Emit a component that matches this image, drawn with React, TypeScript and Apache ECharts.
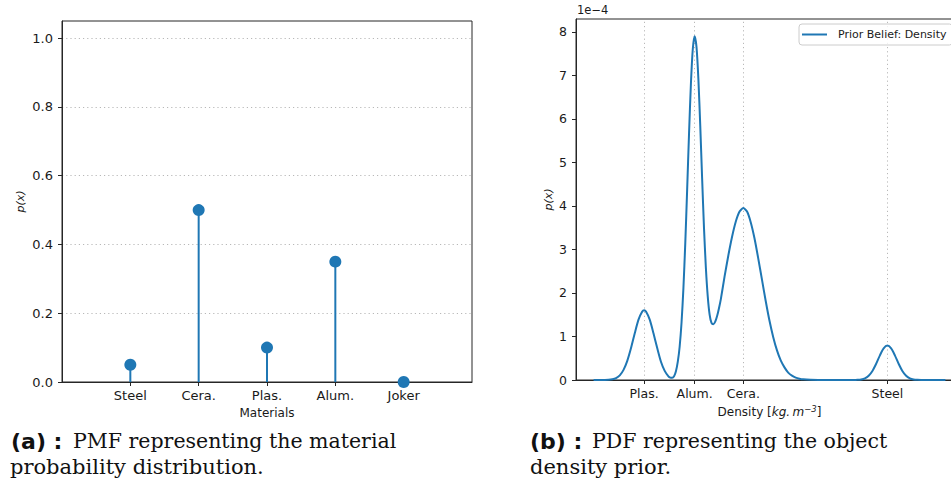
import React, { useEffect, useRef } from "react";
import * as echarts from "echarts";

// ---------- (a) PMF ----------
const materials = ["Steel", "Cera.", "Plas.", "Alum.", "Joker"];
const pmfValues = [0.05, 0.5, 0.1, 0.35, 0.0];
const pmfTicks = [0, 0.2, 0.4, 0.6, 0.8, 1.0];

// ---------- (b) PDF ----------
const densityTickValues = [1350, 2700, 4000, 7850];
const densityTickLabels = ["Plas.", "Alum.", "Cera.", "Steel"];
const pdfTicks = [0, 1, 2, 3, 4, 5, 6, 7, 8];
// density [kg.m^-3]
const densities = [
  0, 200, 400, 500, 600, 700, 800, 900, 1000, 1100, 1200, 1300, 1350, 1400, 1500, 1600, 1700, 1800, 1900,
  2000, 2050, 2100, 2150, 2200, 2250, 2300, 2350, 2400, 2450, 2500, 2550, 2600, 2650, 2700, 2750, 2800,
  2850, 2900, 2950, 3000, 3050, 3100, 3150, 3200, 3250, 3300, 3350, 3400, 3500, 3600, 3700, 3800, 3900,
  4000, 4100, 4200, 4300, 4400, 4500, 4600, 4700, 4800, 4900, 5000, 5100, 5200, 5300, 5400, 5500, 5600,
  5800, 6000, 6500, 7000, 7050, 7150, 7250, 7350, 7450, 7550, 7650, 7750, 7850, 7950, 8050, 8150, 8250,
  8350, 8450, 8550, 8650, 8750, 9000, 9400,
];
// p(x) in units of 1e-4
const pdfValues = [
  0, 0, 0.005, 0.016, 0.044, 0.108, 0.233, 0.44, 0.733, 1.074, 1.386, 1.574, 1.6, 1.574, 1.386, 1.074, 0.733, 0.42, 0.21,
  0.085, 0.055, 0.05, 0.085, 0.2, 0.42, 0.77, 1.32, 2.11, 3.15, 4.38, 5.66, 6.8, 7.6, 7.9, 7.65, 6.91,
  5.84, 4.63, 3.49, 2.58, 1.92, 1.5, 1.31, 1.28, 1.34, 1.47, 1.65, 1.86, 2.38, 2.86, 3.29, 3.64, 3.87,
  3.95, 3.87, 3.62, 3.25, 2.79, 2.3, 1.81, 1.36, 0.985, 0.68, 0.45, 0.29, 0.17, 0.1, 0.056, 0.03, 0.015,
  0.004, 0.001, 0, 0.001, 0.004, 0.013, 0.039, 0.098, 0.208, 0.373, 0.566, 0.727, 0.79, 0.727, 0.566, 0.373, 0.208,
  0.098, 0.039, 0.013, 0.004, 0.001, 0, 0,
];

const BLUE = "#1f77b4";
const TEXT = "#1a1a1a";
const AXIS = "#262626";
const GRIDC = "#b0b0b0";

export default function App() {
  const ref = useRef<HTMLDivElement>(null);

  useEffect(() => {
    if (!ref.current) return;
    const chart = echarts.init(ref.current, undefined, { renderer: "svg" });

    const option: any = {
      animation: false,
      backgroundColor: "#ffffff",
      textStyle: { fontFamily: "DejaVu Sans" },
      grid: [
        {
          left: 62, top: 21, width: 410, height: 361,
          show: true, borderColor: AXIS, borderWidth: 1, backgroundColor: "transparent",
          containLabel: false, outerBoundsMode: "none",
        },
        {
          left: 576, top: 19, width: 387, height: 361,
          show: true, borderColor: AXIS, borderWidth: 1, backgroundColor: "transparent",
          containLabel: false, outerBoundsMode: "none",
        },
      ],
      legend: {
        left: 799,
        top: 24,
        padding: [5, 6, 5, 3],
        itemWidth: 25,
        itemHeight: 2,
        borderColor: "#cccccc",
        borderWidth: 1,
        borderRadius: 3,
        backgroundColor: "rgba(255,255,255,0.8)",
        textStyle: { fontSize: 11, color: TEXT, fontFamily: "DejaVu Sans", padding: [0, 0, 0, 6] },
        data: [{ name: "Prior Belief: Density", icon: "rect" }],
      },
      xAxis: [
        {
          type: "value", gridIndex: 0, min: -1, max: 5,
          axisLine: { show: true, onZero: false, lineStyle: { color: AXIS, width: 1 } },
          axisTick: { show: true, length: 4, customValues: [0, 1, 2, 3, 4], lineStyle: { color: AXIS } },
          axisLabel: {
            customValues: [0, 1, 2, 3, 4],
            formatter: (v: number) => materials[Math.round(v)] ?? "",
            fontSize: 13, color: TEXT, margin: 7, fontFamily: "DejaVu Sans",
          },
          splitLine: { show: false },
          name: "Materials", nameLocation: "middle", nameGap: 25,
          nameTextStyle: { fontSize: 12, color: TEXT, fontFamily: "DejaVu Sans" },
        },
        {
          type: "value", gridIndex: 1, min: -470, max: 9870,
          axisLine: { show: true, onZero: false, lineStyle: { color: AXIS, width: 1 } },
          axisTick: { show: true, length: 4, customValues: densityTickValues, lineStyle: { color: AXIS } },
          axisLabel: {
            customValues: densityTickValues,
            formatter: (v: number) => densityTickLabels[densityTickValues.indexOf(v)] ?? "",
            fontSize: 12.5, color: TEXT, margin: 7, fontFamily: "DejaVu Sans",
          },
          splitLine: { show: false },
          name: "{a|Density [}{i|kg.\u2009m}{s|\u22123}{a|]}",
          nameLocation: "middle", nameGap: 24,
          nameTextStyle: {
            fontSize: 12, color: TEXT, fontFamily: "DejaVu Sans",
            rich: {
              a: { fontSize: 12, color: TEXT, fontFamily: "DejaVu Sans", lineHeight: 15 },
              i: { fontSize: 12, color: TEXT, fontFamily: "DejaVu Sans", fontStyle: "italic", lineHeight: 15 },
              s: { fontSize: 8.5, color: TEXT, fontFamily: "DejaVu Sans", fontStyle: "italic", verticalAlign: "top", lineHeight: 15 },
            },
          },
        },
      ],
      yAxis: [
        {
          type: "value", gridIndex: 0, min: 0, max: 1.05, interval: 0.2,
          axisLine: { show: true, onZero: false, lineStyle: { color: AXIS, width: 1 } },
          axisTick: { show: true, length: 4, customValues: pmfTicks, lineStyle: { color: AXIS } },
          axisLabel: {
            customValues: pmfTicks,
            formatter: (v: number) => v.toFixed(1),
            fontSize: 13, color: TEXT, margin: 9, fontFamily: "DejaVu Sans",
          },
          splitLine: { show: true, lineStyle: { color: GRIDC, width: 0.9, type: [1.2, 3] } },
          name: "p(x)", nameLocation: "middle", nameRotate: 90, nameGap: 36,
          nameTextStyle: { fontSize: 11, color: TEXT, fontStyle: "italic", fontFamily: "DejaVu Sans" },
        },
        {
          type: "value", gridIndex: 1, min: 0, max: 8.295, interval: 1,
          axisLine: { show: true, onZero: false, lineStyle: { color: AXIS, width: 1 } },
          axisTick: { show: true, length: 4, customValues: pdfTicks, lineStyle: { color: AXIS } },
          axisLabel: {
            customValues: pdfTicks,
            formatter: (v: number) => String(Math.round(v)),
            fontSize: 12.5, color: TEXT, margin: 9, fontFamily: "DejaVu Sans",
          },
          splitLine: { show: false },
          name: "p(x)", nameLocation: "middle", nameRotate: 90, nameGap: 22,
          nameTextStyle: { fontSize: 11, color: TEXT, fontStyle: "italic", fontFamily: "DejaVu Sans" },
        },
      ],
      series: [
        {
          type: "bar", name: "stems", xAxisIndex: 0, yAxisIndex: 0,
          data: materials.map((_, i) => [i, pmfValues[i]]),
          barWidth: 2, itemStyle: { color: BLUE }, z: 2, silent: true,
        },
        {
          type: "scatter", name: "pmf", xAxisIndex: 0, yAxisIndex: 0,
          data: materials.map((_, i) => [i, pmfValues[i]]),
          symbol: "circle", symbolSize: 12, itemStyle: { color: BLUE, opacity: 1 }, z: 3, silent: true,
        },
        {
          type: "line", name: "Prior Belief: Density", xAxisIndex: 1, yAxisIndex: 1,
          data: densities.map((d, i) => [d, pdfValues[i]]),
          showSymbol: false, symbol: "none", smooth: 0.25,
          lineStyle: { color: BLUE, width: 2 }, itemStyle: { color: BLUE }, z: 3,
          markLine: {
            silent: true, symbol: ["none", "none"], label: { show: false },
            lineStyle: { color: GRIDC, width: 0.9, type: [1.2, 3] },
            data: densityTickValues.map((v) => ({ xAxis: v })),
            z: 1,
          },
        },
      ],
      graphic: [
        {
          type: "text", left: 577, top: 4,
          style: { text: "1e\u22124", fontSize: 11.5, fill: TEXT, fontFamily: "DejaVu Sans" },
        },
        {
          type: "text", x: 11, y: 441,
          style: { text: "(a) :", fontSize: 22, fontWeight: "bold", fill: "#111", fontFamily: "DejaVu Sans", verticalAlign: "middle" },
        },
        {
          type: "text", x: 73, y: 441,
          style: { text: "PMF representing the material", fontSize: 20.5, fill: "#111", fontFamily: "DejaVu Serif", verticalAlign: "middle" },
        },
        {
          type: "text", x: 10, y: 467,
          style: { text: "probability distribution.", fontSize: 21, fill: "#111", fontFamily: "DejaVu Serif", verticalAlign: "middle" },
        },
        {
          type: "text", x: 530, y: 441,
          style: { text: "(b) :", fontSize: 22, fontWeight: "bold", fill: "#111", fontFamily: "DejaVu Sans", verticalAlign: "middle" },
        },
        {
          type: "text", x: 592, y: 441,
          style: { text: "PDF representing the object", fontSize: 20.5, fill: "#111", fontFamily: "DejaVu Serif", verticalAlign: "middle" },
        },
        {
          type: "text", x: 530, y: 467,
          style: { text: "density prior.", fontSize: 21, fill: "#111", fontFamily: "DejaVu Serif", verticalAlign: "middle" },
        },
      ],
    };

    chart.setOption(option);
    return () => chart.dispose();
  }, []);

  return (
    <div
      ref={ref}
      style={{ position: "fixed", left: 0, top: 0, width: 951, height: 484, background: "#fff" }}
    />
  );
}
